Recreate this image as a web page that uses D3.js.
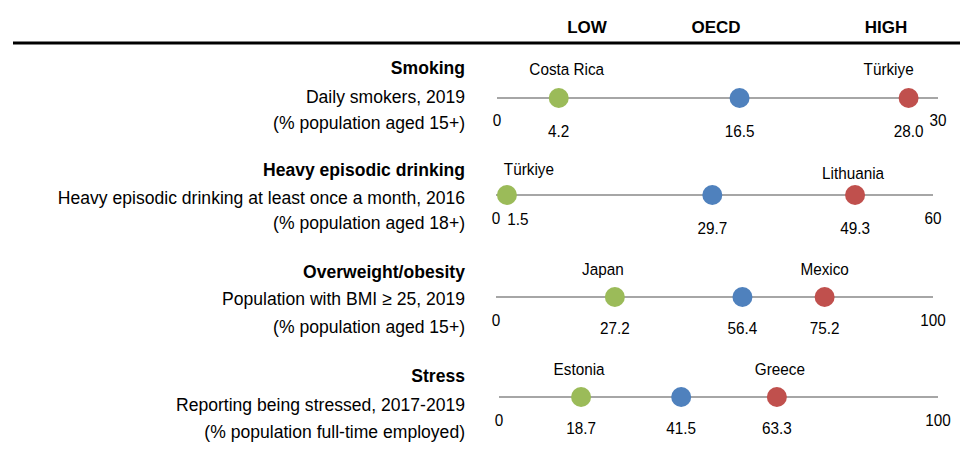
<!DOCTYPE html>
<html>
<head>
<meta charset="utf-8">
<script src="https://cdn.jsdelivr.net/npm/d3@7/dist/d3.min.js"></script>
<style>
  html, body { margin: 0; padding: 0; background: #fff; }
  svg { display: block; }
  text { font-family: "Liberation Sans", Arial, sans-serif; fill: #000; }
</style>
</head>
<body>
<svg id="chart" width="960" height="449"></svg>
<script>
// Risk factor indicators: lowest country, OECD average, highest country
const titles = ["Smoking", "Heavy episodic drinking", "Overweight/obesity", "Stress"];
const subtitles = [
  "Daily smokers, 2019",
  "Heavy episodic drinking at least once a month, 2016",
  "Population with BMI \u2265 25, 2019",
  "Reporting being stressed, 2017-2019"
];
const notes = [
  "(% population aged 15+)",
  "(% population aged 18+)",
  "(% population aged 15+)",
  "(% population full-time employed)"
];
const lowCountries = ["Costa Rica", "T\u00fcrkiye", "Japan", "Estonia"];
const highCountries = ["T\u00fcrkiye", "Lithuania", "Mexico", "Greece"];
const lowValues = [4.2, 1.5, 27.2, 18.7];
const oecdValues = [16.5, 29.7, 56.4, 41.5];
const highValues = [28.0, 49.3, 75.2, 63.3];
const axisMax = [30, 60, 100, 100];
const headers = ["LOW", "OECD", "HIGH"];

// Layout
const svg = d3.select("#chart");
const rowY = [98, 195, 297, 397];
const ranges = [[497, 938], [496, 933], [496, 933], [499, 938]];
const colors = { low: "#9BBB59", oecd: "#4F81BD", high: "#C0504D" };
// small horizontal nudges so labels do not collide
const lowNameDx = [8, 22, -12, -2];
const highNameDx = [-20, -2, 0, 3];
const nameDy = [[-29, -29], [-26, -22], [-28, -28], [-28, -28]];
const lowValDx = [0, 11, 0, 0];
const lowValDy = [33, 24, 31, 31];
const valDy = [33, 33, 31, 31];
const endDy = [22, 23, 23, 23];
const labelDy = [[-30, -1, 25], [-25, 3, 28], [-25, 2, 30], [-21, 8, 35]];

// slightly condensed text, anchored at (x, y)
function place(sel, fx, fy, sx) {
  return sel.attr("transform", (d, i) => `translate(${fx(d, i)},${fy(d, i)}) scale(${sx},1)`)
    .attr("dy", "0.35em");
}

// Column headers and rule
const headerX = [587, 716, 886];
svg.selectAll("text.header").data(headers).join("text")
  .attr("class", "header")
  .attr("x", (d, i) => headerX[i]).attr("y", 27).attr("dy", "0.35em")
  .attr("text-anchor", "middle")
  .style("font-size", "17px").style("font-weight", "bold")
  .text(d => d);
svg.append("line").attr("x1", 13).attr("x2", 960).attr("y1", 43).attr("y2", 43)
  .attr("stroke", "#000").attr("stroke-width", 3);

titles.forEach((title, i) => {
  const y0 = rowY[i];
  const x = d3.scaleLinear().domain([0, axisMax[i]]).range(ranges[i]);
  const g = svg.append("g");

  // Left-hand description
  const lines = [
    { t: title, bold: true },
    { t: subtitles[i], bold: false },
    { t: notes[i], bold: false }
  ];
  g.selectAll("text.desc").data(lines).join("text")
    .attr("class", "desc")
    .call(place, () => 465, (d, k) => y0 + labelDy[i][k], 0.95)
    .attr("text-anchor", "end")
    .style("font-size", "18.5px")
    .style("font-weight", d => d.bold ? "bold" : "normal")
    .text(d => d.t);

  // Axis line
  g.append("line")
    .attr("x1", x(0)).attr("x2", x(axisMax[i]))
    .attr("y1", y0).attr("y2", y0)
    .attr("stroke", "#A6A6A6").attr("stroke-width", 2);

  // Axis end labels
  g.selectAll("text.end").data([0, axisMax[i]]).join("text")
    .attr("class", "end")
    .call(place, d => x(d), () => y0 + endDy[i], 0.9)
    .attr("text-anchor", "middle").style("font-size", "17px")
    .text(d => d);

  const pts = [
    { v: lowValues[i], c: colors.low, name: lowCountries[i], ndx: lowNameDx[i], ndy: nameDy[i][0], vdx: lowValDx[i], vdy: lowValDy[i] },
    { v: oecdValues[i], c: colors.oecd, name: null, ndx: 0, ndy: 0, vdx: 0, vdy: valDy[i] },
    { v: highValues[i], c: colors.high, name: highCountries[i], ndx: highNameDx[i], ndy: nameDy[i][1], vdx: 0, vdy: valDy[i] }
  ];

  g.selectAll("circle").data(pts).join("circle")
    .attr("cx", d => x(d.v)).attr("cy", y0).attr("r", 10)
    .attr("fill", d => d.c);

  g.selectAll("text.val").data(pts).join("text")
    .attr("class", "val")
    .call(place, d => x(d.v) + d.vdx, d => y0 + d.vdy, 0.9)
    .attr("text-anchor", "middle").style("font-size", "17px")
    .text(d => d3.format(".1f")(d.v));

  g.selectAll("text.name").data(pts.filter(d => d.name)).join("text")
    .attr("class", "name")
    .call(place, d => x(d.v) + d.ndx, d => y0 + d.ndy, 0.9)
    .attr("text-anchor", "middle").style("font-size", "17px")
    .text(d => d.name);
});
</script>
</body>
</html>
